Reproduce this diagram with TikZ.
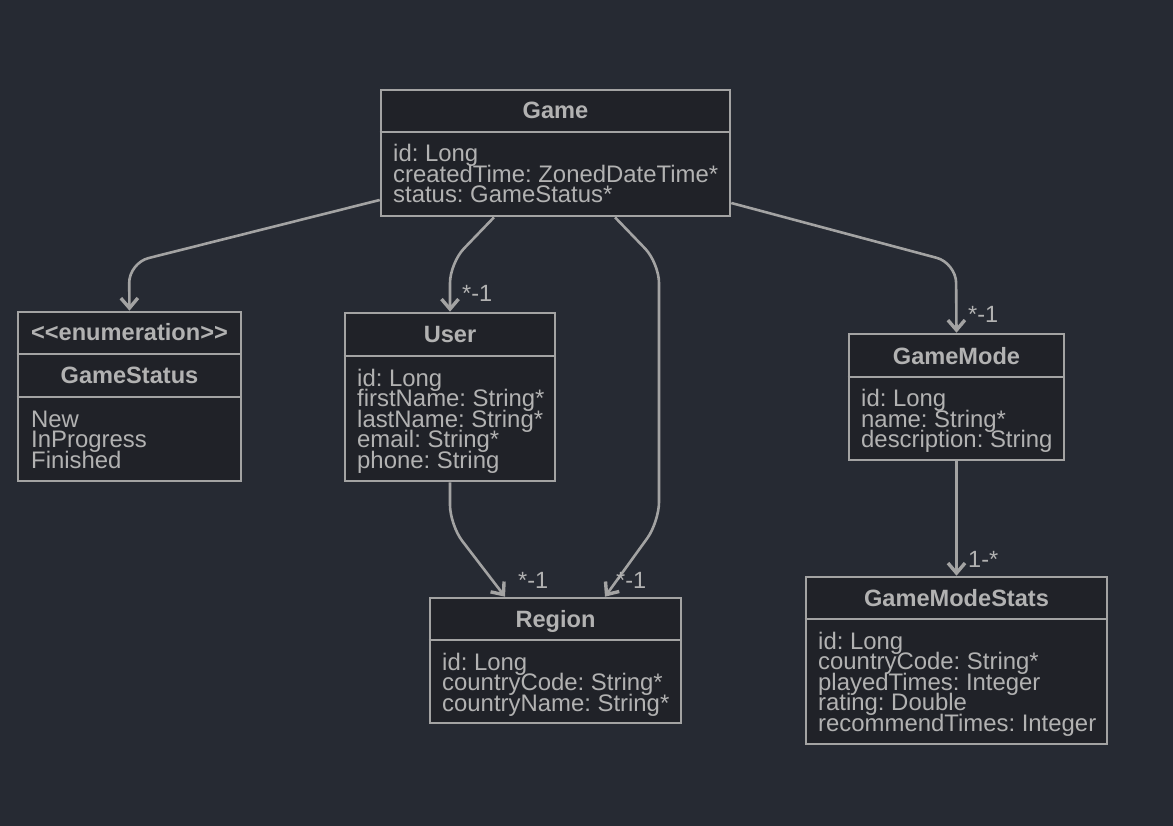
\documentclass[tikz,border=0pt]{standalone}
\usepackage{fontspec}
\setmainfont{Liberation Sans}
\frenchspacing
\usetikzlibrary{arrows.meta}
\definecolor{bgc}{RGB}{38,42,51}
\definecolor{boxc}{RGB}{32,34,40}
\definecolor{linec}{RGB}{163,163,163}
\definecolor{txtc}{RGB}{178,178,178}
\tikzset{
  cls/.style={draw=linec, fill=boxc, line width=2.6pt, inner sep=0pt},
  divl/.style={draw=linec, line width=2.6pt},
  ttl/.style={anchor=base, inner sep=0pt, text=txtc, font=\fontsize{23.6}{24}\selectfont\bfseries},
  attr/.style={anchor=base west, inner sep=0pt, text=txtc, font=\fontsize{23.9}{24}\selectfont},
  lbl/.style={anchor=base west, inner sep=0pt, text=txtc, font=\fontsize{23.5}{24}\selectfont},
  edge/.style={draw=linec, line width=2.6pt, rounded corners=20pt, -{Straight Barb[length=10pt,width=17pt,line width=3.4pt]}}
}
\begin{document}
\begin{tikzpicture}[x=1pt,y=-1pt]
\fill[bgc] (0,0) rectangle (1173,826);
\useasboundingbox (0,0) rectangle (1173,826);

% Game
\node[cls, minimum width=349pt, minimum height=126pt] (game) at (555.5,153) {};
\draw[divl] (game.west |- 0,132) -- (game.east |- 0,132);
\node[ttl] (gameT) at (555.5,119) {Game};
\node[attr] (gameA1) at (393,162) {id: Long};
\node[attr] (gameA2) at (393,182.5) {createdTime: ZonedDateTime*};
\node[attr] (gameA3) at (393,203) {status: GameStatus*};

% GameStatus
\node[cls, minimum width=223pt, minimum height=169pt] (gs) at (129.5,396.5) {};
\draw[divl] (gs.west |- 0,354) -- (gs.east |- 0,354);
\draw[divl] (gs.west |- 0,397) -- (gs.east |- 0,397);
\node[ttl] (gsE) at (129.5,341) {<{}<enumeration>{}>};
\node[ttl] (gsT) at (129.5,384) {GameStatus};
\node[attr] (gsA1) at (31,427) {New};
\node[attr] (gsA2) at (31,447.5) {InProgress};
\node[attr] (gsA3) at (31,468) {Finished};

% User
\node[cls, minimum width=210pt, minimum height=168pt] (user) at (450,397) {};
\draw[divl] (user.west |- 0,356) -- (user.east |- 0,356);
\node[ttl] (userT) at (450,343) {User};
\node[attr] (userA1) at (357,386) {id: Long};
\node[attr] (userA2) at (357,406.5) {firstName: String*};
\node[attr] (userA3) at (357,427) {lastName: String*};
\node[attr] (userA4) at (357,447.5) {email: String*};
\node[attr] (userA5) at (357,468) {phone: String};

% GameMode
\node[cls, minimum width=215pt, minimum height=126pt] (gm) at (956.5,397) {};
\draw[divl] (gm.west |- 0,377) -- (gm.east |- 0,377);
\node[ttl] (gmT) at (956.5,364) {GameMode};
\node[attr] (gmA1) at (861,406.5) {id: Long};
\node[attr] (gmA2) at (861,427) {name: String*};
\node[attr] (gmA3) at (861,447.5) {description: String};

% Region
\node[cls, minimum width=251pt, minimum height=125pt] (reg) at (555.5,660.5) {};
\draw[divl] (reg.west |- 0,640) -- (reg.east |- 0,640);
\node[ttl] (regT) at (555.5,627) {Region};
\node[attr] (regA1) at (442,670) {id: Long};
\node[attr] (regA2) at (442,690.5) {countryCode: String*};
\node[attr] (regA3) at (442,711) {countryName: String*};

% GameModeStats
\node[cls, minimum width=301pt, minimum height=167pt] (gms) at (956.5,660.5) {};
\draw[divl] (gms.west |- 0,619) -- (gms.east |- 0,619);
\node[ttl] (gmsT) at (956.5,606) {GameModeStats};
\node[attr] (gmsA1) at (818,649) {id: Long};
\node[attr] (gmsA2) at (818,669.5) {countryCode: String*};
\node[attr] (gmsA3) at (818,690) {playedTimes: Integer};
\node[attr] (gmsA4) at (818,710.5) {rating: Double};
\node[attr] (gmsA5) at (818,731) {recommendTimes: Integer};

% connectors
\draw[edge] (game.west |- 0,200) -- (129,263) -- (gs.north);
\draw[edge] (game.south -| 494,0) -- (450,263) -- (user.north);
\draw[edge] (game.south -| 615,0) -- (659,263) -- (659,522) -- (reg.north -| 605,0);
\draw[edge] (game.east |- 0,203) -- (956,263) -- (gm.north);
\draw[edge] (user.south) -- (450,525) -- (reg.north -| 505,0);
\draw[edge] (gm.south) -- (gms.north);

% labels
\node[lbl] (l1) at (462,302) {*-1};
\node[lbl] (l2) at (518,588) {*-1};
\node[lbl] (l3) at (616,588) {*-1};
\node[lbl] (l4) at (968,323) {*-1};
\node[lbl] (l5) at (968,567) {1-*};
\end{tikzpicture}
\end{document}
